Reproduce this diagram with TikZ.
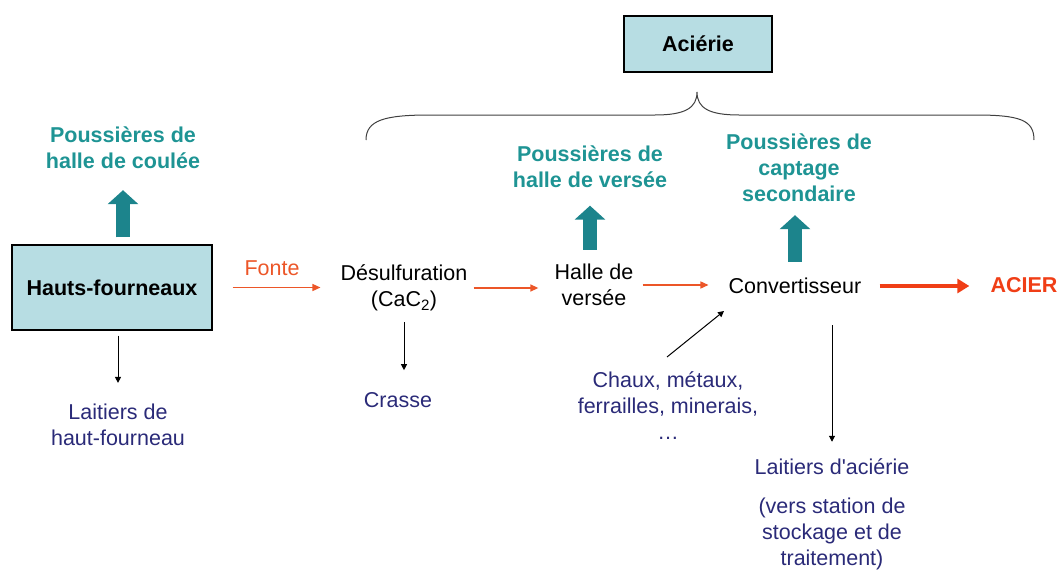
\documentclass[tikz,border=0pt]{standalone}
\usepackage{fontspec}
\setmainfont{Liberation Sans}
\usetikzlibrary{arrows.meta}
\definecolor{boxblue}{RGB}{183,221,227}
\definecolor{tealtxt}{RGB}{30,148,148}
\definecolor{tealarr}{RGB}{28,132,140}
\definecolor{navy}{RGB}{42,42,120}
\definecolor{orng}{RGB}{236,86,40}
\definecolor{acierred}{RGB}{240,62,22}
\begin{document}
\begin{tikzpicture}[x=1pt,y=-1pt,
  txt/.style={inner sep=0pt, align=center, font=\fontsize{21.5}{26}\selectfont},
  boxnode/.style={txt, draw=black, line width=1.3pt, fill=boxblue, font=\fontsize{21.5}{26}\selectfont\bfseries},
  dust/.style={txt, text=tealtxt, font=\fontsize{21.5}{26}\selectfont\bfseries},
  waste/.style={txt, text=navy},
  proc/.style={txt, text=black},
  dustarrow/.style={draw=tealarr, line width=14pt, -{Triangle[width=30pt,length=14pt]}},
  blackarrow/.style={draw=black, line width=1pt, -{Triangle[width=6pt,length=6pt]}},
  flow/.style={draw=orng, line width=1.4pt, -{Triangle[width=7pt,length=8pt]}},
  bigflow/.style={draw=acierred, line width=3.5pt, -{Triangle[width=14pt,length=12pt]}},
]
\useasboundingbox (0,0) rectangle (1061,570);

% boxes
\node[boxnode, minimum width=200pt, minimum height=85pt] (hf) at (112,287.5) {Hauts-fourneaux};
\node[boxnode, minimum width=148pt, minimum height=56pt] (aci) at (698,44) {Aciérie};

% dust labels
\node[dust] (phc) at (123,148) {Poussières de\\halle de coulée};
\node[dust] (pv) at (590,166.5) {Poussières de\\halle de versée};
\node[dust] (pcs) at (799,168) {Poussières de\\captage\\secondaire};

% process labels
\node[proc] (des) at (404,288) {Désulfuration\\(CaC\textsubscript{2})};
\node[proc] (hv) at (594,285) {Halle de\\versée};
\node[proc] (conv) at (795,286) {Convertisseur};
\node[txt, text=acierred, font=\fontsize{21.5}{26}\selectfont\bfseries] (acier) at (1024,285) {ACIER};
\node[txt, text=orng] (fonte) at (272,268) {Fonte};

% waste labels
\node[waste] (lhf) at (118,425) {Laitiers de\\haut-fourneau};
\node[waste] (crasse) at (398,400) {Crasse};
\node[waste] (chaux) at (668,406) {Chaux, métaux,\\ferrailles, minerais,\\…};
\node[waste] (lacier) at (832,467) {Laitiers d\textquotesingle aciérie};
\node[waste] (vers) at (832,533.5) {(vers station de\\stockage et de\\traitement)};

% brace
\draw[line width=1pt, black!75] (366,140) .. controls (366,120) and (385,115) .. (430,115)
  -- (655,115) .. controls (685,115) and (697,108) .. (697,92)
  .. controls (697,108) and (709,115) .. (739,115)
  -- (975,115) .. controls (1020,115) and (1034,120) .. (1034,140);

% dust arrows
\draw[dustarrow, shorten <=7pt, shorten >=21pt] (hf.north -| phc.south) -- (phc.south);
\draw[dustarrow, shorten <=14pt, shorten >=18pt] (hv.north -| pv.south) -- (pv.south);
\draw[dustarrow, shorten <=16pt, shorten >=13pt] (conv.north) -- (conv.north |- pcs.south);

% main flow
\draw[flow, shorten <=20pt, shorten >=20pt] (hf.east) -- (hf.east -| des.west);
\draw[flow, shorten <=6pt, shorten >=16pt] (des.east) -- (des.east -| hv.west);
\draw[flow, shorten <=9pt, shorten >=20pt] (hv.east) -- (hv.east -| conv.west);
\draw[bigflow, shorten <=18pt, shorten >=21pt] (conv.east) -- (conv.east -| acier.west);

% black arrows
\draw[blackarrow, shorten <=5pt, shorten >=21pt] (hf.south -| lhf.north) -- (lhf.north);
\draw[blackarrow, shorten <=11pt, shorten >=22pt] (des.south) -- (des.south |- crasse.north);
\draw[blackarrow, shorten <=31pt, shorten >=17pt] (conv.south -| lacier.north) -- (lacier.north);
\coordinate (chauxin) at (667,357);
\coordinate (convin) at (724,311);
\draw[blackarrow] (chauxin) -- (convin);
\end{tikzpicture}
\end{document}
